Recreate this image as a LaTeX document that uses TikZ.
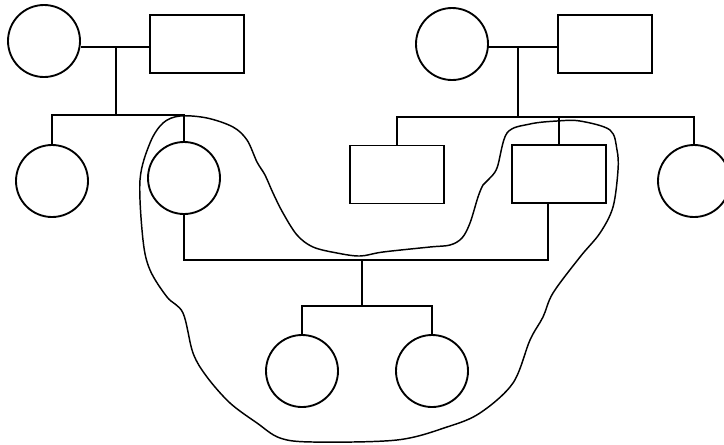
\documentclass[tikz,border=0pt]{standalone}
\usetikzlibrary{positioning}

\begin{document}
\begin{tikzpicture}[x=0.75pt, y=-0.75pt, line width=1.4pt,
  fem/.style={draw, circle, minimum size=54pt, inner sep=0pt},
  male/.style={draw, rectangle, minimum width=70.5pt,
               minimum height=43.5pt, inner sep=0pt},
  loop/.style={line width=1.1pt}]
  \useasboundingbox (0,0) rectangle (724,444);
  % left grandparents
  \node[fem]  (lgm) at (44,41) {};
  \node[male] (lgf) at (197,44) {};
  \coordinate (lm) at (116,47);
  \coordinate (lsib) at (116,115);
  \node[fem] (lsis) at (52,181) {};
  \node[fem] (lmum) at (184,178) {};
  \draw (lgm.east |- lm) -- (lgf.west |- lm);
  \draw (lm) -- (lsib);
  \draw (lsis.north) |- (lsib) -| (lmum.north);
  % right grandparents
  \node[fem]  (rgm) at (452,44) {};
  \node[male] (rgf) at (605,44) {};
  \coordinate (rm) at (518,47);
  \coordinate (rsib) at (518,117);
  \node[male] (rbro) at (397,174.5) {};
  \node[male] (rdad) at (559,174) {};
  \node[fem]  (rsis) at (694,181) {};
  \draw (rgm.east |- rm) -- (rgf.west |- rm);
  \draw (rm) -- (rsib);
  \draw (rbro.north) |- (rsib) -| (rsis.north);
  \draw (rdad.north |- rsib) -- (rdad.north);
  % parents and children
  \coordinate (bm) at (362,260);
  \coordinate (dadleg) at (548,260);
  \coordinate (ksib) at (362,306);
  \node[fem] (kid1) at (302,371) {};
  \node[fem] (kid2) at (432,371) {};
  \draw (lmum.south) |- (dadleg) -- (dadleg |- rdad.south);
  \draw (bm) -- (ksib);
  \draw (kid1.north) |- (ksib) -| (kid2.north);
  % freehand ring
  \draw[loop] plot[smooth cycle, tension=0.55] coordinates {
    (180,116) (207,118) (233,127) (247,140) (257,162) (265,175)
    (273,193) (283,213) (297,235) (313,247) (337,253) (360,256)
    (383,252) (430,247) (450,245) (462,238) (470,223) (478,197)
    (483,185) (488,180) (497,168) (507,133) (530,124) (557,121)
    (580,121) (610,130) (617,150) (618,170) (613,207) (600,233)
    (580,257) (553,293) (543,317) (530,340) (513,383) (480,413)
    (447,427) (397,440) (313,442) (280,438) (257,423) (230,403)
    (207,377) (193,353) (183,313) (167,297) (150,270) (143,240)
    (140,180) (150,143) (163,123)};
\end{tikzpicture}
\end{document}
